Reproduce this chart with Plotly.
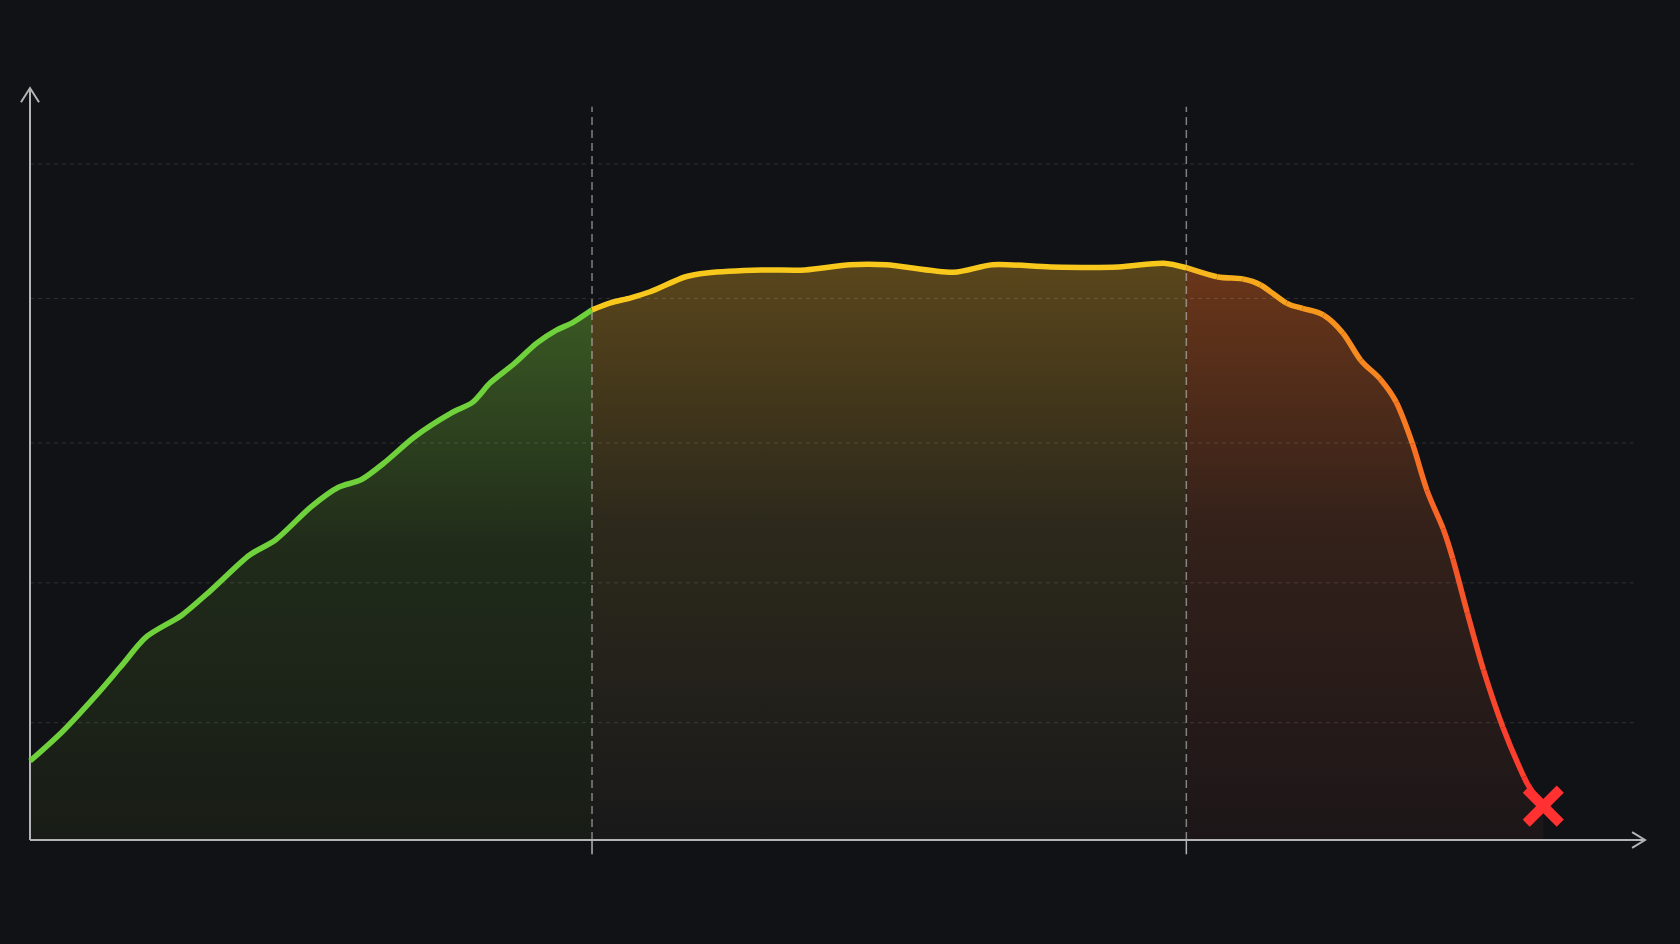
import plotly.graph_objects as go

# curve readings: x = time (0-100), y = level (0-100)
days = [0, 2.0, 4.2, 5.6, 7.2, 9.4, 11.2, 13.6, 15.2, 17.4,
        19.1, 20.5, 21.9, 23.8, 26.1, 27.4, 28.5, 29.9, 31.4, 32.6,
        33.6, 34.8, 35.9, 37.2, 38.4, 40.6, 41.9, 45.3, 48.0, 50.8,
        53.0, 57.2, 59.6, 63.2, 67.4, 70.2, 71.6, 73.5, 75.1, 76.2,
        77.8, 78.8, 80.1, 81.3, 82.4, 83.6, 84.6, 85.6, 86.5, 87.5,
        88.1, 89.0, 90.0, 91.2, 92.5, 93.1, 93.7]
level = [10.5, 14.4, 19.5, 23.0, 27.0, 29.9, 33.2, 37.9, 39.9, 44.3,
         46.9, 47.9, 50.1, 53.6, 56.8, 58.2, 60.8, 63.2, 66.1, 67.8,
         68.8, 70.5, 71.4, 72.1, 72.9, 74.9, 75.4, 75.8, 75.8, 76.5,
         76.5, 75.5, 76.5, 76.2, 76.2, 76.7, 76.1, 74.9, 74.6, 73.8,
         71.4, 70.7, 69.8, 67.4, 63.8, 61.3, 58.2, 52.7, 46.5, 41.4,
         37.4, 30.2, 22.6, 15.0, 8.4, 6.2, 4.5]

# phase boundaries (vertical dashed lines)
milestones = [34.8, 71.6]
# faint horizontal grid
grid_levels = [89.9, 72.0, 52.8, 34.2, 15.6]

BG = "#111215"
AXIS = "#b4b4b4"

# pixel mapping: x 0..100 -> 30..1645 px, y 0..100 -> 840..88 px
W, H = 1680, 944
px_x = 1615 / 100
px_y = 752 / 100
x_range = [-30 / px_x, (W - 30) / px_x]
y_range = [-(H - 840) / px_y, 840 / px_y]


def hex_rgb(h):
    h = h.lstrip("#")
    return [int(h[i:i + 2], 16) for i in (0, 2, 4)]


def lerp_color(stops, x):
    if x <= stops[0][0]:
        return stops[0][1]
    for (x0, c0), (x1, c1) in zip(stops, stops[1:]):
        if x <= x1:
            t = (x - x0) / (x1 - x0)
            a, b = hex_rgb(c0), hex_rgb(c1)
            r = [round(a[i] + (b[i] - a[i]) * t) for i in range(3)]
            return "rgb(%d,%d,%d)" % tuple(r)
    return stops[-1][1]


def zone(lo, hi):
    xs = [d for d in days if lo <= d <= hi]
    ys = [v for d, v in zip(days, level) if lo <= d <= hi]
    return xs, ys


zones = [
    (zone(0, milestones[0]), ["#181c16", "#202b1a", "#3a5823"]),
    (zone(milestones[0], milestones[1]), ["#19191a", "#2d291b", "#5a461b"]),
    (zone(milestones[1], 100), ["#1c1618", "#34211a", "#6a3619"]),
]

fig = go.Figure()

# area fills per phase
for (xs, ys), cols in zones:
    fig.add_trace(go.Scatter(
        x=xs, y=ys, mode="lines", fill="tozeroy",
        line=dict(width=0, shape="spline", smoothing=0.8),
        fillgradient=dict(type="vertical",
                          colorscale=[[0, cols[0]], [0.55, cols[1]], [1, cols[2]]]),
        hoverinfo="skip", showlegend=False))

# grid
for g in grid_levels:
    fig.add_trace(go.Scatter(
        x=[0, 99.3], y=[g, g], mode="lines",
        line=dict(color="rgba(255,255,255,0.13)", width=1, dash="4px,4px"),
        hoverinfo="skip", showlegend=False))

# milestone lines + ticks
for m in milestones:
    fig.add_trace(go.Scatter(
        x=[m, m], y=[0, 97.5], mode="lines",
        line=dict(color="rgba(200,200,200,0.6)", width=1.5, dash="8px,5px"),
        hoverinfo="skip", showlegend=False))
    fig.add_trace(go.Scatter(
        x=[m, m], y=[0, -1.9], mode="lines",
        line=dict(color=AXIS, width=1.5),
        hoverinfo="skip", showlegend=False))

# axes
fig.add_trace(go.Scatter(x=[0, 100], y=[0, 0], mode="lines",
                         line=dict(color=AXIS, width=2),
                         hoverinfo="skip", showlegend=False))
fig.add_trace(go.Scatter(x=[0, 0], y=[0, 100], mode="lines",
                         line=dict(color=AXIS, width=2),
                         hoverinfo="skip", showlegend=False))
fig.add_trace(go.Scatter(x=[99.2, 100, 99.2], y=[1.06, 0, -1.06], mode="lines",
                         line=dict(color=AXIS, width=2),
                         hoverinfo="skip", showlegend=False))
fig.add_trace(go.Scatter(x=[-0.56, 0, 0.56], y=[98.1, 100, 98.1], mode="lines",
                         line=dict(color=AXIS, width=2),
                         hoverinfo="skip", showlegend=False))

# curve: green phase, yellow phase
(x1, y1), _ = zones[0]
(x2, y2), _ = zones[1]
(x3, y3), _ = zones[2]
fig.add_trace(go.Scatter(x=x1, y=y1, mode="lines",
                         line=dict(color="#6fd13b", width=5.5, shape="spline", smoothing=0.8),
                         hoverinfo="skip", showlegend=False))
fig.add_trace(go.Scatter(x=x2, y=y2, mode="lines",
                         line=dict(color="#f8c91c", width=5.5, shape="spline", smoothing=0.8),
                         hoverinfo="skip", showlegend=False))

# last phase: orange -> red, smooth bezier pieces so each can take its own colour
fade = [(71.6, "#f7bb1e"), (79.0, "#f79a1d"), (85.0, "#f77a22"),
        (89.0, "#f5512a"), (93.7, "#ff3131")]
shapes = []
n = len(x3)
for i in range(n - 1):
    p0 = (x3[max(i - 1, 0)], y3[max(i - 1, 0)])
    p1 = (x3[i], y3[i])
    p2 = (x3[i + 1], y3[i + 1])
    p3 = (x3[min(i + 2, n - 1)], y3[min(i + 2, n - 1)])
    c1 = (p1[0] + (p2[0] - p0[0]) / 6, p1[1] + (p2[1] - p0[1]) / 6)
    c2 = (p2[0] - (p3[0] - p1[0]) / 6, p2[1] - (p3[1] - p1[1]) / 6)
    path = "M %.3f,%.3f C %.3f,%.3f %.3f,%.3f %.3f,%.3f" % (
        p1[0], p1[1], c1[0], c1[1], c2[0], c2[1], p2[0], p2[1])
    shapes.append(dict(type="path", path=path, xref="x", yref="y", layer="above",
                       line=dict(color=lerp_color(fade, (p1[0] + p2[0]) / 2), width=5.5)))

# failure mark (cross at the end point)
cx, cy = days[-1], level[-1]
dx, dy = 17 / px_x, 17 / px_y
for sx in (1, -1):
    shapes.append(dict(type="line", xref="x", yref="y", layer="above",
                       x0=cx - dx * sx, y0=cy - dy, x1=cx + dx * sx, y1=cy + dy,
                       line=dict(color="#ff3131", width=10)))

fig.update_layout(
    width=W, height=H,
    margin=dict(l=0, r=0, t=0, b=0),
    paper_bgcolor=BG, plot_bgcolor=BG,
    xaxis=dict(range=x_range, visible=False, fixedrange=True),
    yaxis=dict(range=y_range, visible=False, fixedrange=True),
    shapes=shapes,
)

fig.write_html("out.html", config={"displayModeBar": False},
               post_script="document.body.style.margin='0';document.body.style.overflow='hidden';")
